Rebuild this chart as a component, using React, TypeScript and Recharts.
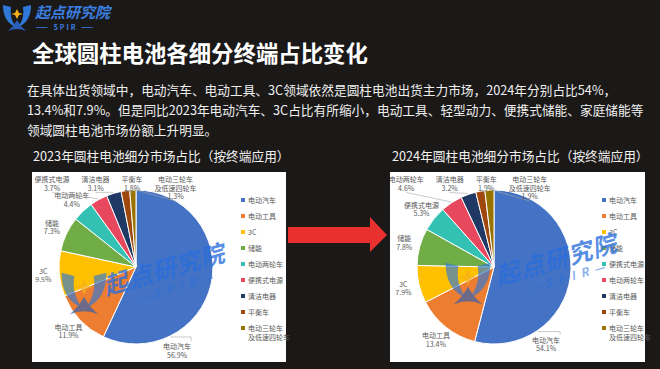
import React from "react";
import { PieChart, Pie, Cell, Legend } from "recharts";

const FONT = '"Noto Sans CJK SC", "Noto Sans", sans-serif';

// 2023 market share by end application (%)
const categories2023 = ["电动汽车", "电动工具", "3C", "储能", "电动两轮车", "便携式电源", "清洁电器", "平衡车", "电动三轮车及低速四轮车"];
const shares2023 = [56.9, 11.9, 9.5, 7.3, 4.4, 3.7, 3.1, 1.8, 1.3];

// 2024 market share by end application (%)
const categories2024 = ["电动汽车", "电动工具", "3C", "储能", "便携式电源", "电动两轮车", "清洁电器", "平衡车", "电动三轮车及低速四轮车"];
const shares2024 = [54.1, 13.4, 7.9, 7.8, 5.3, 4.6, 3.2, 1.9, 1.9];

const sliceColors = ["#4472C4", "#ED7D31", "#FFC000", "#70AD47", "#33C1B3", "#E8485E", "#203864", "#9E480E", "#997300"];

const splitName = (name: string) => (name.length > 6 ? [name.slice(0, 5), name.slice(5)] : [name]);

const textWidth = (s: string, size = 7) =>
  [...s].reduce((w, ch) => w + (/[\x00-\x7f]/.test(ch) ? size * 0.55 : size), 0);

type Spot = { mid: number; at: number; x: number; y: number; top: boolean; lines: string[] };

const LINE_H = 8.5;

// places data labels roughly like the Excel original: around the rim,
// small slices near 12 o'clock pushed apart into one row above the pie
function layoutLabels(cats: string[], values: number[], cx: number, cy: number, r: number): Spot[] {
  const total = values.reduce((a, b) => a + b, 0);
  let acc = 0;
  const spots = values.map((v, i) => {
    const p = v / total;
    const mid = (acc + p / 2) * 360;
    const at = p > 0.5 ? (acc + p * 0.75) * 360 : mid;
    acc += p;
    const rad = (at * Math.PI) / 180;
    const lines = [...splitName(cats[i]), `${v.toFixed(1)}%`];
    return {
      mid,
      at,
      x: cx + (r + 16) * Math.sin(rad),
      y: cy - (r + 16) * Math.cos(rad),
      top: at > 320,
      lines,
    };
  });

  const top = spots.filter((s) => s.top);
  const widths = top.map((s) => Math.max(...s.lines.map((l) => textWidth(l))));
  const init = top.map((s) => s.x);
  const xs: number[] = [];
  init.forEach((x, k) => {
    xs.push(k === 0 ? x : Math.max(x, xs[k - 1] + (widths[k - 1] + widths[k]) / 2 + 12));
  });
  const mean = (a: number[]) => a.reduce((s, v) => s + v, 0) / (a.length || 1);
  const shift = mean(init) - mean(xs);
  top.forEach((s, k) => {
    s.x = xs[k] + shift;
    // first line sits just under the top of the plot box
    s.y = cy - r - 11 + ((s.lines.length - 1) * LINE_H) / 2;
  });
  return spots;
}

const Logo = ({ size = 30 }: { size?: number }) => (
  <svg width={size} height={size} viewBox="0 0 30 30">
    <path d="M1 3 Q1 20 14 25 Q7 16 9 5 Z" fill="#2f78d8" />
    <path d="M29 3 Q29 20 16 25 Q23 16 21 5 Z" fill="#2f78d8" />
    <path d="M15 7 L17 11 L21 12 L17 13 L15 17 L13 13 L9 12 L13 11 Z" fill="#f2b01e" />
    <path d="M6 29 Q12 24 15 18 Q18 24 24 29 Q15 25 6 29 Z" fill="#2a5fb8" />
  </svg>
);

const Watermark = ({ textLeft, textTop, logoLeft, logoTop }: { textLeft: number; textTop: number; logoLeft: number; logoTop: number }) => (
  <>
    <div style={{ position: "absolute", left: logoLeft, top: logoTop, opacity: 0.65, pointerEvents: "none" }}>
      <Logo size={48} />
    </div>
    <div
      style={{
        position: "absolute",
        left: textLeft,
        top: textTop,
        transform: "rotate(-16deg)",
        transformOrigin: "left top",
        color: "rgba(40,110,220,0.78)",
        fontSize: 24,
        fontWeight: 700,
        fontStyle: "italic",
        fontFamily: FONT,
        letterSpacing: 1,
        whiteSpace: "nowrap",
        lineHeight: "28px",
        pointerEvents: "none",
      }}
    >
      起点研究院
      <div style={{ fontSize: 12, letterSpacing: 6, lineHeight: "14px", paddingLeft: 28, color: "rgba(40,110,220,0.55)" }}>
        —SPIR—
      </div>
    </div>
  </>
);

function SharePie({ categories, values, legendLeft }: { categories: string[]; values: number[]; legendLeft: number }) {
  const data = categories.map((name, i) => ({ name, value: values[i] }));
  const CX = 104;
  const CY = 95;
  const R = 77;
  const spots = layoutLabels(categories, values, CX, CY, R);

  const renderLabel = (props: any) => {
    const s = spots[props.index];
    const n = s.lines.length;
    const firstY = s.y - ((n - 1) * LINE_H) / 2;
    const lastY = firstY + (n - 1) * LINE_H;
    let line: React.ReactNode = null;
    if (s.top) {
      const a = (s.mid * Math.PI) / 180;
      const ex = CX + (R + 1) * Math.sin(a);
      const ey = CY - (R + 1) * Math.cos(a);
      line = <polyline points={`${ex},${ey} ${s.x},${lastY + 5}`} stroke="#a6a6a6" strokeWidth={0.6} fill="none" />;
    } else if (s.at !== s.mid) {
      const a = (s.at * Math.PI) / 180;
      const ex = CX + (R + 1) * Math.sin(a);
      const ey = CY - (R + 1) * Math.cos(a);
      line = (
        <polyline points={`${ex},${ey} ${s.x + 14},${ey} ${s.x + 14},${firstY - 5}`} stroke="#a6a6a6" strokeWidth={0.6} fill="none" />
      );
    }
    return (
      <g key={`lab-${props.index}`}>
        {line}
        <text textAnchor="middle" fontSize={7} fill="#595959" fontFamily={FONT} dominantBaseline="central">
          {s.lines.map((l, k) => (
            <tspan key={k} x={s.x} y={firstY + k * LINE_H}>
              {l}
            </tspan>
          ))}
        </text>
      </g>
    );
  };

  const renderLegend = () => (
    <div style={{ fontSize: 7, color: "#595959", fontFamily: FONT }}>
      {categories.map((c, i) => (
        <div key={c} style={{ display: "flex", alignItems: "flex-start", height: 16, lineHeight: "9px" }}>
          <span style={{ width: 4, height: 4, background: sliceColors[i], marginTop: 2.5, marginRight: 3, flexShrink: 0 }} />
          <span style={{ whiteSpace: "nowrap" }}>
            {splitName(c).map((l, k) => (
              <div key={k}>{l}</div>
            ))}
          </span>
        </div>
      ))}
    </div>
  );

  return (
    <PieChart width={254} height={190} margin={{ top: 0, right: 0, bottom: 0, left: 0 }}>
      <Pie
        data={data}
        dataKey="value"
        nameKey="name"
        cx={CX}
        cy={CY}
        outerRadius={R}
        startAngle={90}
        endAngle={-270}
        stroke="#ffffff"
        strokeWidth={1}
        label={renderLabel}
        labelLine={false}
        isAnimationActive={false}
      >
        {data.map((d, i) => (
          <Cell key={d.name} fill={sliceColors[i]} />
        ))}
      </Pie>
      <Legend content={renderLegend} wrapperStyle={{ left: legendLeft, top: 23.5, width: 60 }} />
    </PieChart>
  );
}

export default function App() {
  return (
    <div
      style={{
        position: "absolute",
        left: 0,
        top: 0,
        width: 660,
        height: 369,
        background: "#1b1918",
        overflow: "hidden",
        fontFamily: FONT,
        color: "#f2f2f2",
      }}
    >
      {/* brand mark */}
      <div style={{ position: "absolute", left: 2, top: 2 }}>
        <Logo size={30} />
      </div>
      <div
        style={{
          position: "absolute",
          left: 35,
          top: 3,
          color: "#3b7fe0",
          fontSize: 15,
          fontWeight: 700,
          fontStyle: "italic",
          lineHeight: "18px",
        }}
      >
        起点研究院
      </div>
      <div style={{ position: "absolute", left: 36, top: 23, color: "#3b7fe0", fontSize: 7, letterSpacing: 2, lineHeight: "9px", fontWeight: 700 }}>
        —— SPIR ——
      </div>

      <div style={{ position: "absolute", left: 32, top: 40, fontSize: 22.4, fontWeight: 700, lineHeight: "24px", color: "#ffffff", whiteSpace: "nowrap" }}>
        全球圆柱电池各细分终端占比变化
      </div>

      <div style={{ position: "absolute", left: 27, top: 80, fontSize: 12.7, lineHeight: "20px", whiteSpace: "nowrap", color: "#f0f0f0" }}>
        在具体出货领域中，电动汽车、电动工具、3C领域依然是圆柱电池出货主力市场，2024年分别占比54%，
        <br />
        13.4%和7.9%。但是同比2023年电动汽车、3C占比有所缩小，电动工具、轻型动力、便携式储能、家庭储能等
        <br />
        领域圆柱电池市场份额上升明显。
      </div>

      <div style={{ position: "absolute", left: 33, top: 148, fontSize: 12.7, lineHeight: "16px", whiteSpace: "nowrap" }}>
        2023年圆柱电池细分市场占比（按终端应用）
      </div>
      <div style={{ position: "absolute", left: 392, top: 148, fontSize: 12.7, lineHeight: "16px", whiteSpace: "nowrap" }}>
        2024年圆柱电池细分市场占比（按终端应用）
      </div>

      <div style={{ position: "absolute", left: 32, top: 172, width: 254, height: 190, background: "#ffffff" }}>
        <SharePie categories={categories2023} values={shares2023} legendLeft={209} />
      </div>
      <div style={{ position: "absolute", left: 390, top: 172, width: 255, height: 190, background: "#ffffff" }}>
        <SharePie categories={categories2024} values={shares2024} legendLeft={212} />
      </div>

      <svg style={{ position: "absolute", left: 0, top: 0 }} width={660} height={369}>
        <polygon points="288,227 370,227 370,217 387,235 370,252 370,243 288,243" fill="#e8302e" />
      </svg>

      <Watermark textLeft={100} textTop={272} logoLeft={60} logoTop={268} />
      <Watermark textLeft={492} textTop={262} logoLeft={444} logoTop={258} />
    </div>
  );
}
